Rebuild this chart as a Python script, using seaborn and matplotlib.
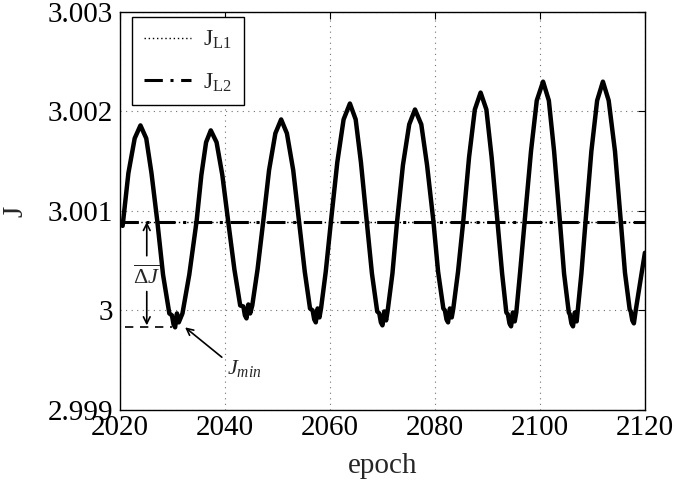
import matplotlib
matplotlib.use("Agg")
import matplotlib.pyplot as plt
import seaborn as sns
import pandas as pd
from matplotlib.lines import Line2D

# Jacobi constant history of the orbit
epoch = [2020.5, 2021.6, 2022.8, 2023.9, 2025.0, 2026.0, 2027.1, 2028.2, 2029.4, 2029.9,
         2030.2, 2030.5, 2030.85, 2031.2, 2031.9, 2033.2, 2034.6, 2035.5, 2036.4, 2037.3,
         2038.4, 2039.5, 2040.6, 2041.8, 2042.9, 2043.5, 2043.8, 2044.1, 2044.45, 2044.8,
         2045.2, 2046.2, 2047.3, 2048.4, 2049.6, 2050.7, 2051.8, 2053.0, 2054.1, 2055.2,
         2056.2, 2056.7, 2057.0, 2057.3, 2057.65, 2058.0, 2058.3, 2059.2, 2060.2, 2061.4,
         2062.6, 2063.8, 2064.9, 2065.9, 2067.0, 2068.0, 2069.0, 2069.4, 2069.7, 2070.0,
         2070.35, 2070.7, 2071.0, 2071.9, 2072.8, 2073.9, 2075.1, 2076.2, 2077.4, 2078.5,
         2079.7, 2080.6, 2081.6, 2081.9, 2082.2, 2082.5, 2082.85, 2083.2, 2083.5, 2084.4,
         2085.4, 2086.5, 2087.6, 2088.7, 2089.8, 2090.8, 2091.9, 2092.8, 2093.6, 2093.9,
         2094.2, 2094.5, 2094.85, 2095.2, 2095.5, 2096.2, 2097.1, 2098.3, 2099.4, 2100.6,
         2101.7, 2102.7, 2103.8, 2104.6, 2105.5, 2105.7, 2106.0, 2106.3, 2106.65, 2107.0,
         2107.9, 2108.7, 2109.8, 2110.9, 2112.0, 2113.1, 2114.3, 2115.4, 2116.2, 2117.1,
         2117.3, 2117.6, 2117.9, 2118.25, 2118.7, 2119.3, 2120.0]

jacobi = [3.00085, 3.00138, 3.00173, 3.00186, 3.00173, 3.00138, 3.00090, 3.00036, 2.99997, 2.99995,
          2.99986, 2.99983, 2.99997, 2.99988, 2.99997, 3.00036, 3.00090, 3.00136, 3.00169, 3.00181,
          3.00169, 3.00136, 3.00090, 3.00041, 3.00005, 3.00004, 2.99995, 2.99992, 3.00006, 2.99997,
          3.00005, 3.00041, 3.00090, 3.00141, 3.00178, 3.00192, 3.00178, 3.00141, 3.00090, 3.00039,
          3.00002, 3.00000, 2.99991, 2.99988, 3.00002, 2.99993, 3.00002, 3.00039, 3.00090, 3.00149,
          3.00192, 3.00208, 3.00192, 3.00149, 3.00090, 3.00037, 2.99999, 2.99997, 2.99988, 2.99985,
          2.99999, 2.99990, 3.00000, 3.00037, 3.00090, 3.00146, 3.00187, 3.00202, 3.00187, 3.00146,
          3.00090, 3.00039, 3.00002, 3.00000, 2.99991, 2.99988, 3.00002, 2.99993, 3.00002, 3.00039,
          3.00090, 3.00154, 3.00202, 3.00219, 3.00202, 3.00154, 3.00090, 3.00037, 2.99998, 2.99996,
          2.99987, 2.99984, 2.99998, 2.99989, 2.99998, 3.00037, 3.00090, 3.00160, 3.00211, 3.00230,
          3.00211, 3.00160, 3.00090, 3.00037, 2.99998, 2.99996, 2.99987, 2.99984, 2.99998, 2.99989,
          3.00037, 3.00090, 3.00160, 3.00211, 3.00230, 3.00211, 3.00160, 3.00090, 3.00038, 3.00001,
          2.99999, 2.99990, 2.99987, 3.00000, 3.00015, 3.00035, 3.00058]

# Reference levels
J_L1 = 3.00089
J_L2 = 3.00089
J_min = 2.99983

x_ticks = [2020, 2040, 2060, 2080, 2100, 2120]
y_ticks = [2.999, 3.000, 3.001, 3.002, 3.003]
y_tick_labels = ["2.999", "3", "3.001", "3.002", "3.003"]

sns.set_theme(style="white")
plt.rcParams["font.family"] = ["Liberation Serif", "DejaVu Serif"]
plt.rcParams["mathtext.fontset"] = "custom"
plt.rcParams["mathtext.rm"] = "Liberation Serif"
plt.rcParams["mathtext.it"] = "Liberation Serif:italic"
plt.rcParams["mathtext.bf"] = "Liberation Serif:bold"

fig = plt.figure(figsize=(6.76, 4.80), dpi=100)
ax = fig.add_axes([0.1775, 0.146, 0.7765, 0.829])

df = pd.DataFrame({"epoch": epoch, "J": jacobi})
sns.lineplot(data=df, x="epoch", y="J", ax=ax, color="black", linewidth=3.2,
             sort=False, estimator=None, legend=False)

ax.axhline(J_L1, color="black", linestyle=(0, (1, 2)), linewidth=1.0, zorder=1)
ax.axhline(J_L2, color="black", linestyle=(0, (6, 2.5, 1, 2.5)), linewidth=2.2, zorder=1)

# minimum level marker
ax.plot([2020.95, 2029.9], [J_min, J_min], color="black", linestyle=(0, (5, 4)), linewidth=1.2)

# Delta J arrows and label
ax.annotate("", xy=(2025.1, J_L2), xytext=(2025.1, 3.00055),
            arrowprops=dict(arrowstyle="->", color="black", lw=1.2, mutation_scale=12,
                            shrinkA=0, shrinkB=0))
ax.annotate("", xy=(2025.1, J_min + 0.00002), xytext=(2025.1, 3.00019),
            arrowprops=dict(arrowstyle="->", color="black", lw=1.2, mutation_scale=12,
                            shrinkA=0, shrinkB=0))
ax.text(2025.1, 3.00033, r"$\overline{\Delta J}$", ha="center", va="center", fontsize=16)

# J_min pointer
ax.annotate("", xy=(2032.4, J_min), xytext=(2039.4, 2.99953),
            arrowprops=dict(arrowstyle="->", color="black", lw=1.2, mutation_scale=12,
                            shrinkA=0, shrinkB=0))
ax.text(2040.3, 2.99942, r"$J_{min}$", ha="left", va="center", fontsize=16)

ax.set_xlim(2020, 2120)
ax.set_ylim(2.999, 3.003)
ax.set_xticks(x_ticks)
ax.set_xticklabels([str(t) for t in x_ticks])
ax.set_yticks(y_ticks)
ax.set_yticklabels(y_tick_labels)
ax.tick_params(axis="both", which="major", direction="in", length=5, width=0.8,
               labelsize=21, top=True, right=True, pad=5, colors="black")
ax.tick_params(axis="x", pad=4)
ax.grid(True, color="0.45", linestyle=(0, (1, 4)), linewidth=0.8)
for s in ax.spines.values():
    s.set_color("black")
    s.set_linewidth(1.0)

ax.set_xlabel("epoch", fontsize=21, labelpad=8)
ax.set_ylabel("J", fontsize=21, labelpad=14)

handles = [Line2D([], [], color="black", linestyle=(0, (1, 2)), linewidth=1.0),
           Line2D([], [], color="black", linestyle=(0, (6, 2.5, 1, 2.5)), linewidth=2.2)]
labels = [r"$\mathrm{J}_{\mathrm{L1}}$", r"$\mathrm{J}_{\mathrm{L2}}$"]
leg = ax.legend(handles, labels, loc="upper left", bbox_to_anchor=(0.0229, 0.987),
                borderaxespad=0, fontsize=17, handlelength=2.0, handletextpad=0.5,
                labelspacing=0.85, borderpad=0.5, frameon=True, fancybox=False)
leg.get_frame().set_edgecolor("black")
leg.get_frame().set_linewidth(1.0)
leg.get_frame().set_alpha(1.0)

fig.savefig("out.png", dpi=100)
